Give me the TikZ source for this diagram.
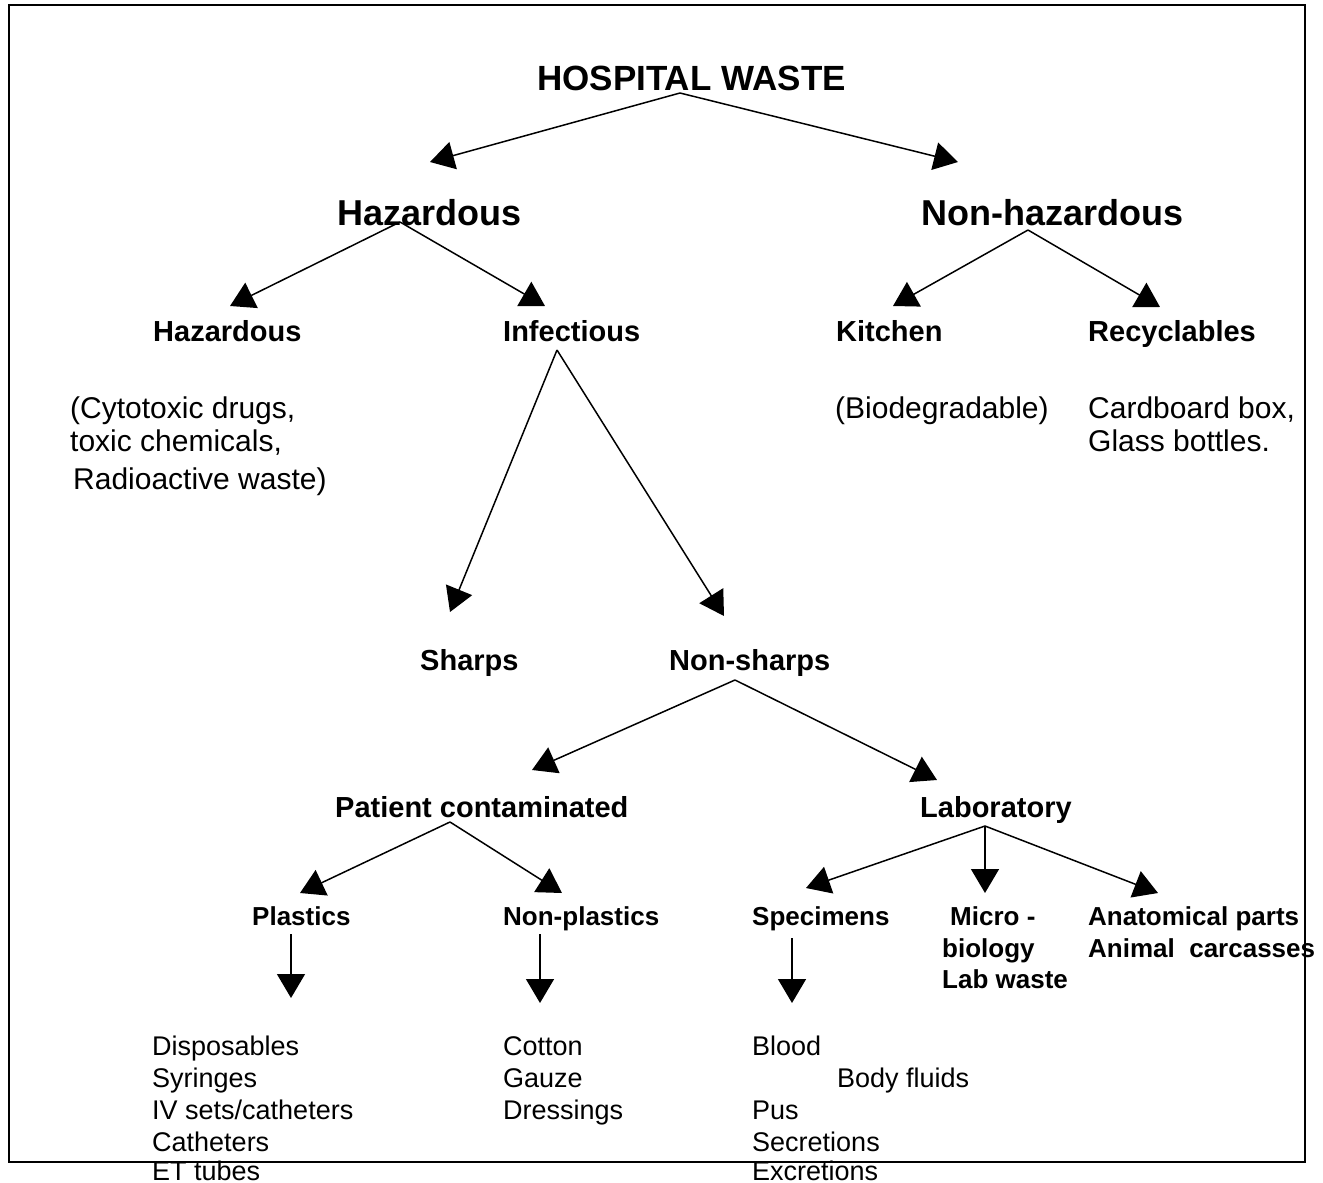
\documentclass[tikz,border=0pt]{standalone}
\usepackage{fontspec}
\setmainfont{Liberation Sans}
\usetikzlibrary{arrows.meta}
\tikzset{
  lbl/.style={inner sep=0pt, anchor=base west},
  top/.style={lbl, font=\fontsize{35}{40}\selectfont\bfseries},
  lvtwo/.style={lbl, font=\fontsize{36}{40}\selectfont\bfseries},
  lvthree/.style={lbl, font=\fontsize{29}{33}\selectfont\bfseries},
  lvfour/.style={lbl, font=\fontsize{26}{30}\selectfont\bfseries},
  txt/.style={lbl, font=\fontsize{30}{34}\selectfont},
  lst/.style={lbl, font=\fontsize{27}{31}\selectfont},
  arr/.style={line width=1.5pt, -{Triangle[length=24pt,width=28pt]}},
  frame/.style={line width=2pt}
}
\begin{document}
\begin{tikzpicture}[x=1pt,y=-1pt]
\useasboundingbox (0,0) rectangle (1323,1183);
\draw[frame] (9,5) rectangle (1305,1162);

% texts
\node[top] (hw) at (537,90) {HOSPITAL WASTE};
\node[lvtwo] (haz) at (337,225) {Hazardous};
\node[lvtwo] (nonhaz) at (921,225) {Non-hazardous};
\node[lvthree] (haz2) at (153,341) {Hazardous};
\node[lvthree] (inf) at (503,341) {Infectious};
\node[lvthree] (kit) at (836,341) {Kitchen};
\node[lvthree] (rec) at (1088,341) {Recyclables};
\node[txt] (cyt1) at (70,418) {(Cytotoxic drugs,};
\node[txt] (cyt2) at (70,451) {toxic chemicals,};
\node[txt] (cyt3) at (73,489) {Radioactive waste)};
\node[txt] (bio) at (835,418) {(Biodegradable)};
\node[txt] (card) at (1088,418) {Cardboard box,};
\node[txt] (glass) at (1088,451) {Glass bottles.};
\node[lvthree] (sharps) at (420,670) {Sharps};
\node[lvthree] (nonsharps) at (669,670) {Non-sharps};
\node[lvthree] (patient) at (335,817) {Patient contaminated};
\node[lvthree] (lab) at (920,817) {Laboratory};
\node[lvfour] (plast) at (252,925) {Plastics};
\node[lvfour] (nonplast) at (503,925) {Non-plastics};
\node[lvfour] (spec) at (752,925) {Specimens};
\node[lvfour] (micro1) at (950,925) {Micro -};
\node[lvfour] (micro2) at (942,957) {biology};
\node[lvfour] (micro3) at (942,988) {Lab waste};
\node[lvfour] (anat1) at (1088,925) {Anatomical parts};
\node[lvfour] (anat2) at (1088,957) {Animal\ \ carcasses};
\node[lst] (disp) at (152,1055) {Disposables};
\node[lst] (syr) at (152,1087) {Syringes};
\node[lst] (iv) at (152,1119) {IV sets/catheters};
\node[lst] (cath) at (152,1151) {Catheters};
\node[lst] (et) at (152,1180) {ET tubes};
\node[lst] (cot) at (503,1055) {Cotton};
\node[lst] (gau) at (503,1087) {Gauze};
\node[lst] (dre) at (503,1119) {Dressings};
\node[lst] (blood) at (752,1055) {Blood};
\node[lst] (body) at (837,1087) {Body fluids};
\node[lst] (pus) at (752,1119) {Pus};
\node[lst] (secr) at (752,1151) {Secretions};
\node[lst] (excr) at (752,1180) {Excretions};

% connector end points
\coordinate (hw-o) at (680,93);
\coordinate (haz-i) at (430,162);
\coordinate (nonhaz-i) at (958,162);
\coordinate (haz-o) at (400,222);
\coordinate (haz2-i) at (230,306);
\coordinate (inf-i) at (545,306);
\coordinate (nonhaz-o) at (1028,230);
\coordinate (kit-i) at (893,306);
\coordinate (rec-i) at (1160,307);
\coordinate (inf-o) at (557,350);
\coordinate (sharps-i) at (450,612);
\coordinate (nonsharps-i) at (724,616);
\coordinate (nonsharps-o) at (735,680);
\coordinate (patient-i) at (532,770);
\coordinate (lab-i) at (937,780);
\coordinate (patient-o) at (450,822);
\coordinate (plast-i) at (300,893);
\coordinate (nonplast-i) at (562,893);
\coordinate (lab-o) at (985,826);
\coordinate (spec-i) at (806,888);
\coordinate (micro-i) at (985,893);
\coordinate (anat-i) at (1158,893);
\coordinate (plast-o) at (291,934);
\coordinate (plastlist-i) at (291,998);
\coordinate (nonplast-o) at (540,934);
\coordinate (nonplastlist-i) at (540,1003);
\coordinate (spec-o) at (792,938);
\coordinate (speclist-i) at (792,1003);

\draw[arr] (hw-o) -- (haz-i);
\draw[arr] (hw-o) -- (nonhaz-i);
\draw[arr] (haz-o) -- (haz2-i);
\draw[arr] (haz-o) -- (inf-i);
\draw[arr] (nonhaz-o) -- (kit-i);
\draw[arr] (nonhaz-o) -- (rec-i);
\draw[arr] (inf-o) -- (sharps-i);
\draw[arr] (inf-o) -- (nonsharps-i);
\draw[arr] (nonsharps-o) -- (patient-i);
\draw[arr] (nonsharps-o) -- (lab-i);
\draw[arr] (patient-o) -- (plast-i);
\draw[arr] (patient-o) -- (nonplast-i);
\draw[arr] (lab-o) -- (spec-i);
\draw[arr] (lab-o) -- (micro-i);
\draw[arr] (lab-o) -- (anat-i);
\draw[arr] (plast-o) -- (plastlist-i);
\draw[arr] (nonplast-o) -- (nonplastlist-i);
\draw[arr] (spec-o) -- (speclist-i);
\end{tikzpicture}
\end{document}
